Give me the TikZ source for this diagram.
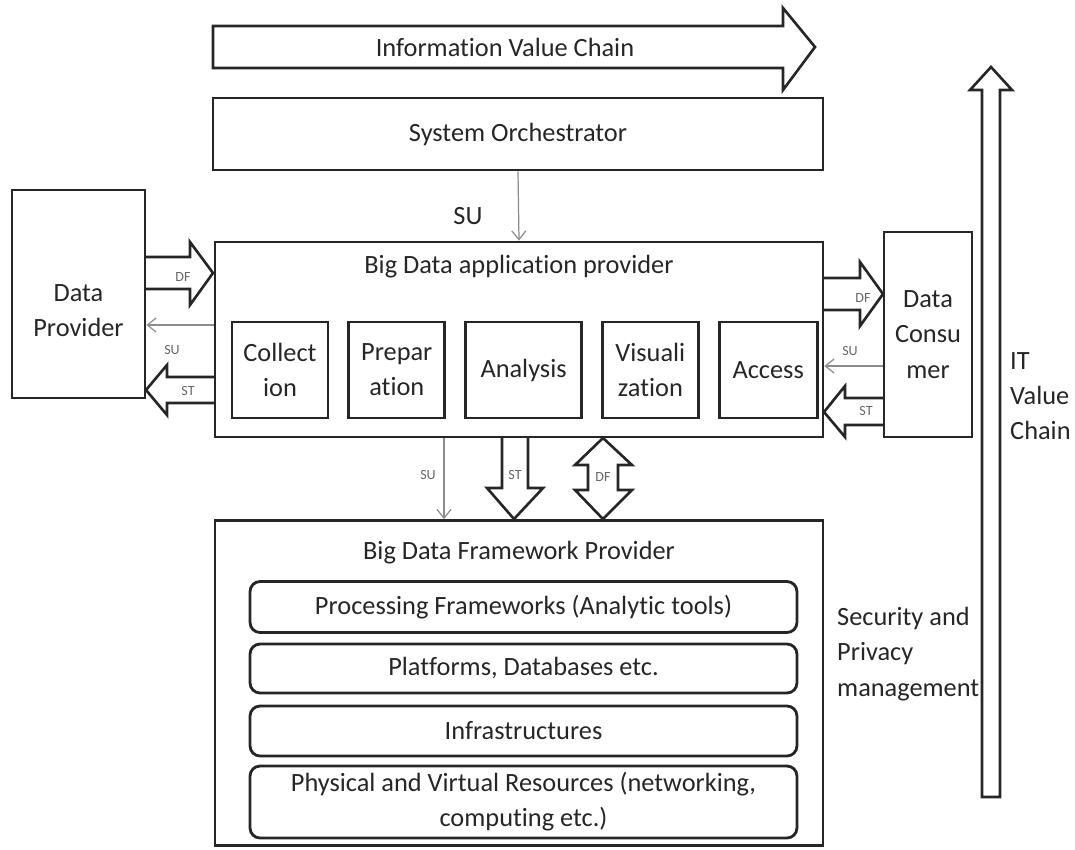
\documentclass[tikz,border=0pt]{standalone}
\usepackage{fontspec}
\setmainfont{Carlito}[Ligatures=NoCommon]
\usetikzlibrary{arrows.meta,positioning}

\begin{document}
\begin{tikzpicture}[x=0.02cm,y=-0.02cm,node distance=0.36cm,
  box/.style={draw=black!85,line width=1.6pt,align=center,text=black!85,font=\fontsize{15}{20}\selectfont},
  stage/.style={box,minimum width=1.92cm,minimum height=1.92cm,inner sep=2pt},
  layer/.style={box,rounded corners=0.2cm,minimum width=10.94cm,inner sep=2pt},
  txt/.style={align=center,text=black!85,font=\fontsize{15}{20}\selectfont},
  fat/.style={draw=black!85,line width=1.5pt,line join=miter},
  su/.style={draw=black!45,line width=0.7pt,-{Straight Barb[length=5pt,width=8pt]}},
  tag/.style={text=black!60,font=\fontsize{8}{9}\selectfont,inner sep=1pt}]

  \useasboundingbox (0,0) rectangle (1075,849);

  % value chains
  \draw[fat] (213,26) -- (783,26) -- (783,8) -- (815,47) -- (783,90) -- (783,68) -- (213,68) -- cycle;
  \node[txt] (ivc) at (505,47) {Information Value Chain};
  \draw[fat] (982,797) -- (982,90) -- (970,90) -- (991,67) -- (1012,90) -- (1000,90) -- (1000,797) -- cycle;
  \node[txt,anchor=west,align=left] (itvc) at (1004,396) {IT\\Value\\Chain};

  % roles
  \node[box,minimum width=12.2cm,minimum height=1.44cm] (orch) at (518,134) {System Orchestrator};
  \node[box,minimum width=12.16cm,minimum height=3.9cm] (bdap) at (519,339.5) {};
  \node[txt] (bdaptitle) at (519,267) {Big Data application provider};
  \node[box,minimum width=2.66cm,minimum height=4.16cm] (dp) at (78.5,294) {};
  \node[txt] (dptext) at (78.5,311) {Data\\Provider};
  \node[box,minimum width=1.76cm,minimum height=4.1cm] (dc) at (928,334.5) {Data\\Consu\\mer};
  \node[box,minimum width=12.16cm,minimum height=6.5cm] (bdfp) at (519,683) {};
  \node[txt] (bdfptitle) at (519,553) {Big Data Framework Provider};
  \node[txt,anchor=west,align=left] (spm) at (831,654) {Security and\\Privacy\\management};

  % application activities
  \node[stage] (coll) at (280,370) {Collect\\ion};
  \node[stage,right=of coll] (prep) {Prepar\\ation};
  \node[stage,right=of prep,minimum width=2.32cm] (anal) {Analysis};
  \node[stage,right=of anal] (visu) {Visuali\\zation};
  \node[stage,right=of visu,minimum width=1.96cm] (acc) {Access};

  % framework layers
  \node[layer,minimum height=1.02cm] (proc) at (523.5,607) {Processing Frameworks (Analytic tools)};
  \node[layer,minimum height=0.98cm] (plat) at (523.5,668.5) {Platforms, Databases etc.};
  \node[layer,minimum height=1.0cm] (infra) at (523.5,731) {Infrastructures};
  \node[layer,minimum height=1.44cm] (phys) at (523.5,802) {Physical and Virtual Resources (networking,\\computing etc.)};

  % SU lines
  \coordinate (suL) at (0,325);
  \coordinate (suR) at (0,366);
  \coordinate (suB) at (444,0);
  \draw[su] (orch.south) -- (bdap.north);
  \node[txt] (su0) at (468,216) {SU};
  \draw[su] (bdap.west |- suL) -- (dp.east |- suL);
  \node[tag] (su1) at (172,350) {SU};
  \draw[su] (dc.west |- suR) -- (bdap.east |- suR);
  \node[tag] (su2) at (850,351) {SU};
  \draw[su] (bdap.south -| suB) -- (bdfp.north -| suB);
  \node[tag] (su3) at (428,475) {SU};

  % DF and ST arrows
  \draw[fat] (145,257) -- (190,257) -- (190,242) -- (213,273) -- (190,305) -- (190,289) -- (145,289);
  \node[tag] (df1) at (183,277) {DF};
  \draw[fat] (215,377) -- (167,377) -- (167,365) -- (146,390) -- (167,415) -- (167,403) -- (215,403);
  \node[tag] (st1) at (188,391) {ST};
  \draw[fat] (823,278) -- (860,278) -- (860,262) -- (883,294) -- (860,326) -- (860,310) -- (823,310);
  \node[tag] (df2) at (863,298) {DF};
  \draw[fat] (884,398) -- (845,398) -- (845,386) -- (824,412) -- (845,437) -- (845,425) -- (884,425);
  \node[tag] (st2) at (866,411) {ST};
  \draw[fat] (502,437) -- (502,488) -- (487,488) -- (514,519) -- (543,488) -- (528,488) -- (528,437);
  \node[tag] (st3) at (515,475) {ST};
  \draw[fat] (603,438) -- (632,465) -- (618,465) -- (618,490) -- (632,490) -- (603,519) -- (575,490)
    -- (588,490) -- (588,465) -- (575,465) -- cycle;
  \node[tag] (df3) at (603,477) {DF};
\end{tikzpicture}
\end{document}
